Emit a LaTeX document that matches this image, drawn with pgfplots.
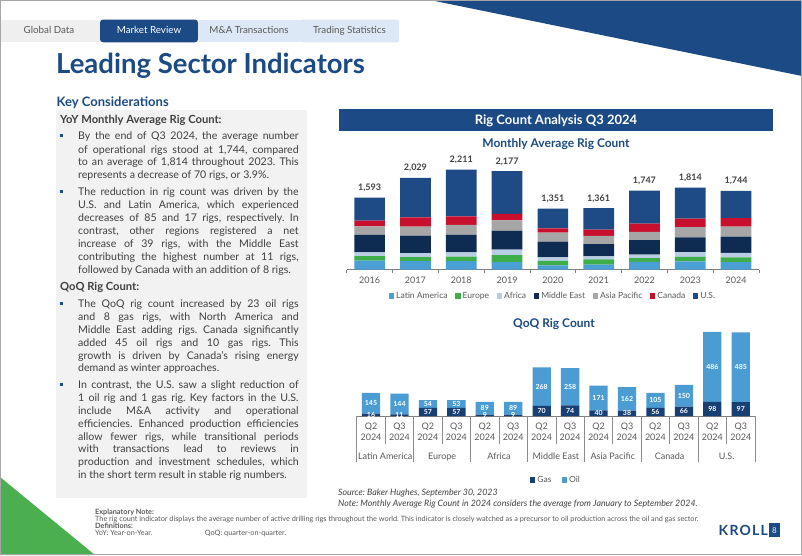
\documentclass[border=0pt]{standalone}
\usepackage{pgfplots}
\pgfplotsset{compat=1.18}
\usepackage{pgfplotstable}
\usepackage{fontspec}
\setmainfont{Lato}
\frenchspacing

\definecolor{navy}{HTML}{1B4A85}
\definecolor{txt}{HTML}{404040}
\definecolor{lbl}{HTML}{595959}
\definecolor{panel}{HTML}{F2F2F2}
\definecolor{tabgray}{HTML}{EFEFEF}
\definecolor{tabblue}{HTML}{DCE8F5}
\definecolor{cUS}{HTML}{1E4B85}
\definecolor{cCA}{HTML}{C8102E}
\definecolor{cAP}{HTML}{A6A6A6}
\definecolor{cME}{HTML}{0E2B52}
\definecolor{cAF}{HTML}{B9CDE5}
\definecolor{cEU}{HTML}{3DAE4A}
\definecolor{cLA}{HTML}{4A9FD4}
\definecolor{cOil}{HTML}{4A9CD2}
\definecolor{cGas}{HTML}{173F73}
\definecolor{grn}{HTML}{4BAF4F}
\definecolor{axgray}{HTML}{7F7F7F}
\definecolor{sepc}{HTML}{8C8C8C}

\pgfplotstableread{
idx LA EU AF ME AP CA US tot
0 198 96 83 390 187 130 509 1593
1 183 92 87 390 196 206 875 2029
2 187 98 93 392 218 191 1032 2211
3 165 155 118 420 228 148 943 2177
4 89 104 74 350 200 96 438 1351
5 108 118 67 267 185 141 475 1361
6 170 81 81 317 184 184 730 1747
7 178 104 104 326 229 184 689 1814
8 163 104 104 355 222 193 603 1744
}\annual

\pgfplotstableread{
idx gas oil
0 16 145
1 11 144
2 57 54
3 57 53
4 9 89
5 9 89
6 70 268
7 74 258
8 40 171
9 38 162
10 56 105
11 66 150
12 98 486
13 97 485
}\qoq

\pgfplotsset{
  annualgeom/.style={at={(346.7pt,-269.5pt)}, anchor=south west, scale only axis, width=412.3pt, height=110pt, xmin=-0.5, xmax=8.5, ymin=0, ymax=2437, clip=false},
  qoqgeom/.style={at={(356.8pt,-416pt)}, anchor=south west, scale only axis, width=398.2pt, height=100pt, xmin=-0.5, xmax=13.5, ymin=0, ymax=695, clip=false},
}

\newcommand\bodyfont{\fontsize{10.6}{13}\selectfont}
\newcommand\jline[2]{\node[anchor=base west,inner sep=0pt,font=\bodyfont,text=txt] at (78,-#1) {\makebox[220.5pt][s]{#2}};}
\newcommand\lline[2]{\node[anchor=base west,inner sep=0pt,font=\bodyfont,text=txt] at (78,-#1) {#2};}
\newcommand\bul[1]{\fill[navy] (60,{-(#1-5.6)}) rectangle (63,{-(#1-2.6)});}

\begin{document}
\begin{tikzpicture}[x=1pt,y=1pt]
\fill[white] (0,0) rectangle (802,-555);
\fill[navy] (430,0) -- (802,0) -- (802,-76) -- cycle;
\fill[grn] (0,-477) -- (95,-555) -- (0,-555) -- cycle;
\draw[black!35, line width=0.8pt] (0.4,-0.4) rectangle (801.6,-554.6);
% tabs
\fill[tabgray] (1,-19.5) rectangle (99.5,-42.3);
\fill[navy, rounded corners=3pt] (100,-19.5) rectangle (198,-42.3);
\fill[tabblue] (198.5,-19.5) rectangle (299.5,-42.3);
\fill[tabblue, rounded corners=2pt] (300,-19.5) rectangle (399,-42.3);
\begin{scope}[every node/.style={anchor=base, inner sep=0pt, font=\fontsize{9.8}{10}\selectfont, text=lbl}]
\node at (49,-33.8) {Global Data};
\node[text=white] at (149,-33.8) {Market Review};
\node at (249,-33.8) {M\&A Transactions};
\node at (349.5,-33.8) {Trading Statistics};
\end{scope}
% title
\node[anchor=base west, inner sep=0pt, font=\bfseries\fontsize{27.5}{28}\selectfont, text=navy] at (56,-73) {Leading Sector Indicators};
% left panel
\fill[panel] (56,-110) rectangle (306.5,-498);
\node[anchor=base west, inner sep=0pt, font=\bfseries\fontsize{13}{14}\selectfont, text=navy] at (56.5,-106.5) {Key Considerations};
\node[anchor=base west, inner sep=0pt, font=\bfseries\fontsize{11.2}{12}\selectfont, text=txt] at (60,-123.3) {YoY Monthly Average Rig Count:};
\bul{139.8}
\jline{139.8}{By the end of Q3 2024, the average number}
\jline{153.1}{of operational rigs stood at 1,744, compared}
\jline{165.9}{to an average of 1,814 throughout 2023. This}
\lline{178.7}{represents a decrease of 70 rigs, or 3.9\%.}
\bul{195.5}
\jline{195.5}{The reduction in rig count was driven by the}
\jline{208.5}{U.S. and Latin America, which experienced}
\jline{221.4}{decreases of 85 and 17 rigs, respectively. In}
\jline{234.3}{contrast, other regions registered a net}
\jline{247.2}{increase of 39 rigs, with the Middle East}
\jline{260.1}{contributing the highest number at 11 rigs,}
\lline{273.0}{followed by Canada with an addition of 8 rigs.}
\node[anchor=base west, inner sep=0pt, font=\bfseries\fontsize{11.2}{12}\selectfont, text=txt] at (60,-290) {QoQ Rig Count:};
\bul{307.8}
\jline{307.8}{The QoQ rig count increased by 23 oil rigs}
\jline{320.6}{and 8 gas rigs, with North America and}
\jline{333.4}{Middle East adding rigs. Canada significantly}
\jline{346.2}{added 45 oil rigs and 10 gas rigs. This}
\jline{359.0}{growth is driven by Canada's rising energy}
\lline{371.8}{demand as winter approaches.}
\bul{388.8}
\jline{388.8}{In contrast, the U.S. saw a slight reduction of}
\jline{401.6}{1 oil rig and 1 gas rig. Key factors in the U.S.}
\jline{414.4}{include M\&A activity and operational}
\jline{427.2}{efficiencies. Enhanced production efficiencies}
\jline{440.0}{allow fewer rigs, while transitional periods}
\jline{452.8}{with transactions lead to reviews in}
\jline{465.6}{production and investment schedules, which}
\lline{478.4}{in the short term result in stable rig numbers.}
% right banner
\fill[navy] (339,-109) rectangle (773,-131);
\node[anchor=base, inner sep=0pt, font=\bfseries\fontsize{13}{14}\selectfont, text=white] at (556,-124.5) {Rig Count Analysis Q3 2024};
\node[anchor=base, inner sep=0pt, font=\bfseries\fontsize{12}{13}\selectfont, text=navy] at (556,-147.5) {Monthly Average Rig Count};
\node[anchor=base, inner sep=0pt, font=\bfseries\fontsize{12}{13}\selectfont, text=navy] at (554,-327) {QoQ Rig Count};

% ---------- monthly average chart
\begin{axis}[annualgeom,
  ybar stacked, bar width=30.7pt,
  axis y line=none, axis x line*=bottom,
  axis line style={-, draw=axgray, line width=0.7pt},
  xtick={0,...,8}, xticklabels={2016,2017,2018,2019,2020,2021,2022,2023,2024},
  major tick length=0pt,
  minor xtick={-0.5,0.5,...,8.5}, minor tick length=3.5pt, tick align=outside,
  minor tick style={draw=axgray, line width=0.7pt},
  xticklabel style={font=\fontsize{9}{10}\selectfont, text=lbl, inner sep=0pt, yshift=-7.5pt},
  legend style={at={(0.5,-0.241)}, anchor=center, draw=none, fill=none, font=\fontsize{8.5}{10}\selectfont, text=lbl, legend columns=-1, /tikz/every even column/.append style={column sep=5.5pt}},
  legend image code/.code={\fill[#1] (0pt,-2.8pt) rectangle (5.6pt,2.8pt);},
]
\addplot[fill=cLA, draw=none] table[x=idx,y=LA]{\annual};
\addplot[fill=cEU, draw=none] table[x=idx,y=EU]{\annual};
\addplot[fill=cAF, draw=none] table[x=idx,y=AF]{\annual};
\addplot[fill=cME, draw=none] table[x=idx,y=ME]{\annual};
\addplot[fill=cAP, draw=none] table[x=idx,y=AP]{\annual};
\addplot[fill=cCA, draw=none] table[x=idx,y=CA]{\annual};
\addplot[fill=cUS, draw=none] table[x=idx,y=US]{\annual};
\legend{Latin America,Europe,Africa,Middle East,Asia Pacific,Canada,U.S.}
\end{axis}
\begin{axis}[annualgeom, hide axis, /pgf/number format/assume math mode=true,
  nodes near coords style={anchor=base, inner sep=0pt, yshift=7pt, font=\bfseries\fontsize{9}{10}\selectfont, text=txt}]
\addplot[draw=none, nodes near coords, point meta=\thisrow{tot}] table[x=idx,y=tot]{\annual};
\end{axis}

% ---------- QoQ chart
\begin{axis}[qoqgeom,
  ybar stacked, bar width=18.3pt,
  axis y line=none, axis x line*=bottom,
  axis line style={-, draw=axgray, line width=0.7pt},
  xtick={0,...,13}, major tick length=0pt,
  xticklabels={Q2\\2024,Q3\\2024,Q2\\2024,Q3\\2024,Q2\\2024,Q3\\2024,Q2\\2024,Q3\\2024,Q2\\2024,Q3\\2024,Q2\\2024,Q3\\2024,Q2\\2024,Q3\\2024},
  xticklabel style={align=center, font=\fontsize{9}{11}\selectfont, text=lbl, inner sep=0pt, yshift=-7pt},
  legend style={at={(0.5,-0.64)}, anchor=center, draw=none, fill=none, font=\fontsize{8.5}{10}\selectfont, text=lbl, legend columns=-1, /tikz/every even column/.append style={column sep=8pt}},
  legend image code/.code={\fill[#1] (0pt,-2.8pt) rectangle (5.6pt,2.8pt);},
]
\addplot[fill=cGas, draw=none] table[x=idx,y=gas]{\qoq};
\addplot[fill=cOil, draw=none] table[x=idx,y=oil]{\qoq};
\legend{Gas,Oil}
\end{axis}
\begin{axis}[qoqgeom, hide axis, /pgf/number format/assume math mode=true,
  nodes near coords style={anchor=center, inner sep=0pt, font=\bfseries\fontsize{7}{8}\selectfont, text=white}]
\addplot[draw=none, nodes near coords, point meta=\thisrow{gas}] table[x=idx, y expr=\thisrow{gas}/2]{\qoq};
\addplot[draw=none, nodes near coords, point meta=\thisrow{oil}] table[x=idx, y expr=\thisrow{gas}+\thisrow{oil}/2]{\qoq};
\end{axis}
\foreach \k in {0,2,...,14} \draw[sepc, line width=0.7pt] ({356.8+28.443*\k},-416) -- ({356.8+28.443*\k},-461.7);
\foreach \k in {1,3,...,13} \draw[sepc, line width=0.7pt] ({356.8+28.443*\k},-416) -- ({356.8+28.443*\k},-444);
\foreach \k/\n in {0/Latin America,1/Europe,2/Africa,3/Middle East,4/Asia Pacific,5/Canada,6/U.S.}
  \node[anchor=base, inner sep=0pt, font=\fontsize{9}{10}\selectfont, text=lbl] at ({356.8+28.443*(2*\k+1)},-459.3) {\n};

% sources and notes
\node[anchor=base west, inner sep=0pt, font=\itshape\fontsize{8.8}{10}\selectfont, text=txt] at (338,-495.8) {Source: Baker Hughes, September 30, 2023};
\node[anchor=base west, inner sep=0pt, font=\itshape\fontsize{8.8}{10}\selectfont, text=txt] at (338,-506.4) {Note: Monthly Average Rig Count in 2024 considers the average from January to September 2024.};
\begin{scope}[every node/.style={anchor=base west, inner sep=0pt, font=\fontsize{7.3}{7}\selectfont, text=lbl}]
\node[font=\bfseries\fontsize{7.3}{7}\selectfont] at (95,-514.8) {Explanatory Note:};
\node at (95,-521.6) {The rig count indicator displays the average number of active drilling rigs throughout the world. This indicator is closely watched as a precursor to oil production across the oil and gas sector.};
\node[font=\bfseries\fontsize{7.3}{7}\selectfont] at (95,-528) {Definitions:};
\node at (95,-535.4) {YoY: Year-on-Year.};
\node at (204.6,-535.4) {QoQ: quarter-on-quarter.};
\end{scope}
% logo
\node[anchor=base west, inner sep=0pt, font=\bfseries\fontsize{14}{14}\selectfont, text=navy] at (718.5,-535.3) {K\kern1.2pt R\kern1.2pt O\kern1.2pt L\kern1.2pt L};
\fill[navy] (769,-523) rectangle (780,-537);
\node[anchor=base, inner sep=0pt, font=\fontsize{8}{8}\selectfont, text=white] at (774.5,-533) {8};
\end{tikzpicture}
\end{document}
